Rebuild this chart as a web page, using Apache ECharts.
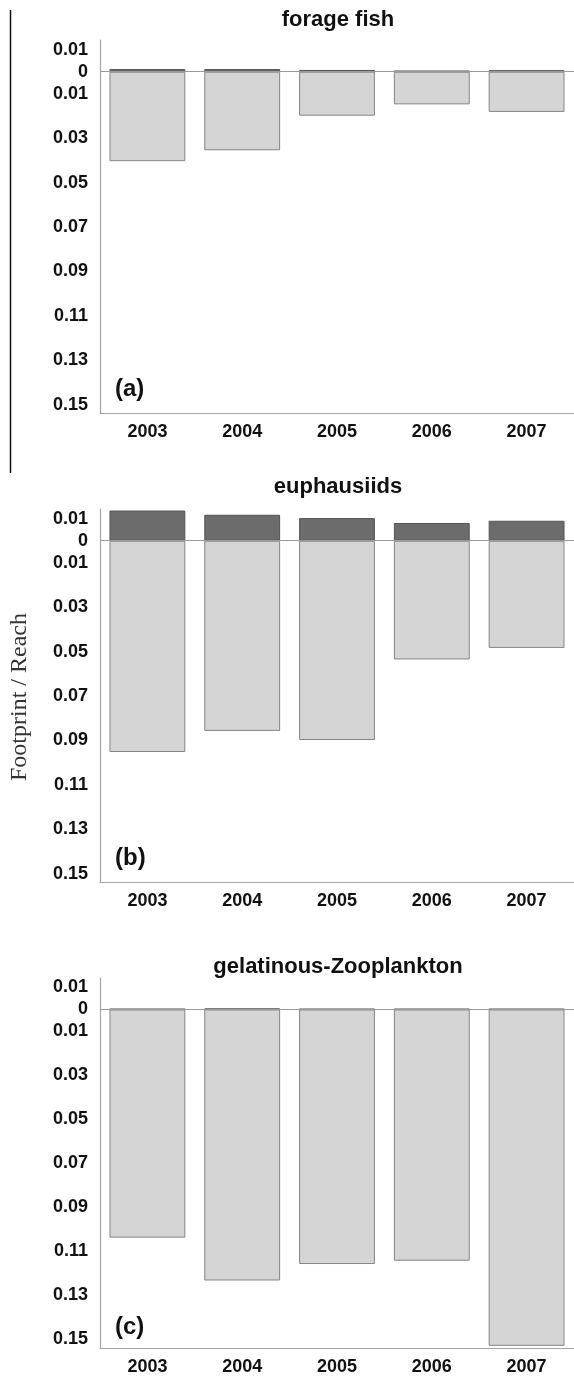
<!DOCTYPE html>
<html>
<head>
<meta charset="utf-8">
<script src="https://cdn.jsdelivr.net/npm/echarts@6/dist/echarts.min.js"></script>
<style>
  html, body { margin: 0; padding: 0; background: #fff; }
  #chart { width: 574px; height: 1376px; }
</style>
</head>
<body>
<div id="chart"></div>
<script>
// Years on the category axis
const years = ['2003', '2004', '2005', '2006', '2007'];

// Reach (drawn upward) and footprint (drawn downward) per group
const forageReach = [0.0012, 0.0012, 0.0008, 0.0005, 0.0007];
const forageFootprint = [-0.0403, -0.0354, -0.0198, -0.0147, -0.0181];

const euphausiidReach = [0.0136, 0.0117, 0.0102, 0.0080, 0.0090];
const euphausiidFootprint = [-0.0952, -0.0857, -0.0898, -0.0535, -0.0483];

const gelatinousReach = [0.0002, 0.0004, 0.0002, 0.0002, 0.0002];
const gelatinousFootprint = [-0.1038, -0.1233, -0.1158, -0.1143, -0.1530];

// Tick labels on the vertical axes (shown as magnitudes)
const yTickValues = [0.01, 0, -0.01, -0.03, -0.05, -0.07, -0.09, -0.11, -0.13, -0.15];

const panelTitles = ['forage fish', 'euphausiids', 'gelatinous-Zooplankton'];
const panelTags = ['(a)', '(b)', '(c)'];

const panels = [
  { reach: forageReach, footprint: forageFootprint },
  { reach: euphausiidReach, footprint: euphausiidFootprint },
  { reach: gelatinousReach, footprint: gelatinousFootprint }
];

const SANS = "'Liberation Sans', Arial, Helvetica, sans-serif";
const gridTops = [40, 509, 978];
const gridHeight = 373.5;
const titleY = [20, 487, 967];
const tagY = [389, 858, 1327];

const grids = [], xAxes = [], yAxes = [], series = [], graphics = [];

panels.forEach((p, i) => {
  grids.push({ left: 100, top: gridTops[i], width: 476, height: gridHeight, containLabel: false });
  xAxes.push({
    type: 'category', gridIndex: i, data: years, boundaryGap: true,
    axisLine: { show: true, onZero: false, lineStyle: { color: '#a3a3a3', width: 1.2 } },
    axisTick: { show: false },
    axisLabel: { margin: 10, color: '#111', fontFamily: SANS, fontWeight: 'bold', fontSize: 18 },
    splitLine: { show: false }
  });
  yAxes.push({
    type: 'value', gridIndex: i, min: -0.154, max: 0.0143,
    axisLine: { show: true, lineStyle: { color: '#a3a3a3', width: 1.2 } },
    axisTick: { show: false },
    splitLine: { show: false },
    axisLabel: {
      customValues: yTickValues,
      margin: 12, color: '#111', fontFamily: SANS, fontWeight: 'bold', fontSize: 18,
      formatter: v => (Math.abs(v) < 1e-9 ? '0' : Math.abs(v).toFixed(2))
    }
  });
  series.push({
    name: 'Footprint', type: 'bar', xAxisIndex: i, yAxisIndex: i,
    data: p.footprint, barCategoryGap: '20%', barGap: '-100%',
    itemStyle: { color: '#d5d5d5', borderColor: '#858585', borderWidth: 1 },
    silent: true
  });
  series.push({
    name: 'Reach', type: 'bar', xAxisIndex: i, yAxisIndex: i,
    data: p.reach, barCategoryGap: '20%', barGap: '-100%',
    itemStyle: { color: '#6c6c6c', borderColor: '#555', borderWidth: 1 },
    silent: true,
    markLine: {
      silent: true, symbol: 'none', label: { show: false },
      lineStyle: { color: '#9a9a9a', type: 'solid', width: 1.2 },
      data: [{ yAxis: 0 }]
    }
  });
  graphics.push({
    type: 'text', x: 338, y: titleY[i],
    style: { text: panelTitles[i], font: "bold 22px " + SANS, fill: '#111', textAlign: 'center', textVerticalAlign: 'middle' }
  });
  graphics.push({
    type: 'text', x: 115, y: tagY[i],
    style: { text: panelTags[i], font: "bold 24px " + SANS, fill: '#111', textAlign: 'left', textVerticalAlign: 'middle' }
  });
});

// Shared vertical rule and axis title on the far left
graphics.push({
  type: 'line', shape: { x1: 10.5, y1: 10, x2: 10.5, y2: 473 },
  style: { stroke: '#111', lineWidth: 1.5 }
});
graphics.push({
  type: 'text', x: 20, y: 697, rotation: Math.PI / 2,
  style: { text: 'Footprint / Reach', font: "24px 'Liberation Serif', 'Times New Roman', serif", fill: '#333', textAlign: 'center', textVerticalAlign: 'middle' }
});

const chart = echarts.init(document.getElementById('chart'), null, { renderer: 'canvas' });
chart.setOption({
  animation: false,
  backgroundColor: '#fff',
  grid: grids,
  xAxis: xAxes,
  yAxis: yAxes,
  series: series,
  graphic: graphics
});
</script>
</body>
</html>
